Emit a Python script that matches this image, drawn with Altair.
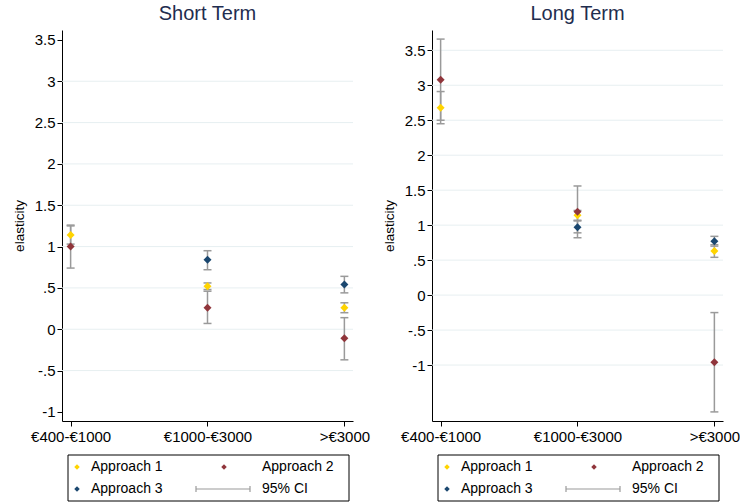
import json
import altair as alt
import pandas as pd

# ---------------- data ----------------
categories = ["€400-€1000", "€1000-€3000", ">€3000"]
approaches = ["Approach 1", "Approach 2", "Approach 3"]
colors = ["#FFD400", "#90353B", "#1A476F"]

# Short term estimates and 95% CI
short_a1 = [1.14, 0.52, 0.26]
short_a1_lo = [1.03, 0.48, 0.20]
short_a1_hi = [1.26, 0.56, 0.32]
short_a2 = [1.00, 0.26, -0.11]
short_a2_lo = [0.74, 0.07, -0.37]
short_a2_hi = [1.25, 0.46, 0.14]
short_a3 = [None, 0.84, 0.54]
short_a3_lo = [None, 0.72, 0.44]
short_a3_hi = [None, 0.95, 0.64]

# Long term estimates and 95% CI
long_a1 = [2.68, 1.14, 0.63]
long_a1_lo = [2.45, 1.07, 0.54]
long_a1_hi = [2.91, 1.21, 0.72]
long_a2 = [3.08, 1.19, -0.96]
long_a2_lo = [2.50, 0.82, -1.67]
long_a2_hi = [3.66, 1.56, -0.25]
long_a3 = [None, 0.97, 0.77]
long_a3_lo = [None, 0.89, 0.70]
long_a3_hi = [None, 1.06, 0.84]

y_ticks = [-1, -0.5, 0, 0.5, 1, 1.5, 2, 2.5, 3, 3.5]
short_grid = [-0.5, 0, 0.5, 1, 1.5, 2, 2.5, 3]
long_grid = [-1, -0.5, 0, 0.5, 1, 1.5, 2, 2.5, 3, 3.5]
short_domain = [-1.11, 3.62]
long_domain = [-1.80, 3.79]

# ---------------- style ----------------
FONT = "Liberation Sans"
W, H = 291, 391
CI_COLOR = "#9a9a9a"
GRID_COLOR = "#E7EFF1"
TITLE_COLOR = "#1F2D4F"

x_label_expr = json.dumps(categories) + "[datum.value]"
y_label_expr = ("datum.value == 0.5 ? '.5' : datum.value == -0.5 ? '-.5' : '' + datum.value")

X_AXIS = alt.Axis(values=[0, 1, 2], labelExpr=x_label_expr, title=None, grid=False, labelPadding=3)
Y_AXIS = alt.Axis(values=y_ticks, labelExpr=y_label_expr, title="elasticity", grid=False,
                  titlePadding=8, titleFontSize=13.5, titleFontWeight="normal", titleFont=FONT,
                  titleColor="black")


def build_df(ests, los, his):
    rows = []
    for a, est, lo, hi in zip(approaches, ests, los, his):
        for i in range(len(categories)):
            if est[i] is None:
                continue
            rows.append({"idx": i, "approach": a, "est": est[i], "lo": lo[i], "hi": hi[i]})
    return pd.DataFrame(rows)


def panel(title, df, grid_vals, domain):
    xs = alt.Scale(domain=[-0.063, 2.063], nice=False, zero=False)
    ys = alt.Scale(domain=domain, nice=False, zero=False)

    def X(f):
        return alt.X(f, scale=xs, axis=X_AXIS)

    def Y(f):
        return alt.Y(f, scale=ys, axis=Y_AXIS)

    grid = alt.Chart(pd.DataFrame({"g": grid_vals})).mark_rule(
        color=GRID_COLOR, strokeWidth=1
    ).encode(y=Y("g:Q"))

    ci = alt.Chart(df).mark_rule(color=CI_COLOR, strokeWidth=1.5).encode(
        x=X("idx:Q"), y=Y("lo:Q"), y2="hi:Q")
    cap_lo = alt.Chart(df).mark_rule(color=CI_COLOR, strokeWidth=1.5, xOffset=-4, x2Offset=4).encode(
        x=X("idx:Q"), x2="idx:Q", y=Y("lo:Q"))
    cap_hi = alt.Chart(df).mark_rule(color=CI_COLOR, strokeWidth=1.5, xOffset=-4, x2Offset=4).encode(
        x=X("idx:Q"), x2="idx:Q", y=Y("hi:Q"))

    pts = alt.Chart(df).mark_point(shape="diamond", filled=True, size=64, opacity=1).encode(
        x=X("idx:Q"), y=Y("est:Q"),
        color=alt.Color("approach:N", scale=alt.Scale(domain=approaches, range=colors), legend=None))

    # ----- legend box drawn below the plot -----
    one = pd.DataFrame({"k": [0]})
    bx0, bx1, by0, by1 = 6, 287, 425, 471
    r1, r2 = 437, 459
    box = alt.Chart(one).mark_rect(fill="white", stroke="black", strokeWidth=1).encode(
        x=alt.value(bx0), x2=alt.value(bx1), y=alt.value(by0), y2=alt.value(by1))
    leg = [box]
    sym_pos = [(bx0 + 9, r1), (bx0 + 156, r1), (bx0 + 9, r2)]
    txt_pos = [(bx0 + 23, r1), (bx0 + 194, r1), (bx0 + 23, r2)]
    for a, c, (sx, sy), (tx, ty) in zip(approaches, colors, sym_pos, txt_pos):
        leg.append(alt.Chart(one).mark_point(shape="diamond", filled=True, size=30, opacity=1,
                                             color=c).encode(x=alt.value(sx), y=alt.value(sy)))
        leg.append(alt.Chart(one).mark_text(text=a, align="left", baseline="middle", font=FONT,
                                            fontSize=14, color="black").encode(
            x=alt.value(tx), y=alt.value(ty)))
    lx0, lx1 = bx0 + 128, bx0 + 182
    leg.append(alt.Chart(one).mark_rule(color=CI_COLOR, strokeWidth=1.2).encode(
        x=alt.value(lx0), x2=alt.value(lx1), y=alt.value(r2)))
    for lx in (lx0, lx1):
        leg.append(alt.Chart(one).mark_rule(color=CI_COLOR, strokeWidth=1.2).encode(
            x=alt.value(lx), y=alt.value(r2 - 3), y2=alt.value(r2 + 3)))
    leg.append(alt.Chart(one).mark_text(text="95% CI", align="left", baseline="middle", font=FONT,
                                        fontSize=14, color="black").encode(
        x=alt.value(bx0 + 194), y=alt.value(r2)))

    return alt.layer(grid, ci, cap_lo, cap_hi, pts, *leg).properties(
        width=W, height=H,
        title=alt.TitleParams(title, fontSize=20, color=TITLE_COLOR, font=FONT,
                              fontWeight="normal", anchor="middle", offset=6))


short_df = build_df([short_a1, short_a2, short_a3],
                    [short_a1_lo, short_a2_lo, short_a3_lo],
                    [short_a1_hi, short_a2_hi, short_a3_hi])
long_df = build_df([long_a1, long_a2, long_a3],
                   [long_a1_lo, long_a2_lo, long_a3_lo],
                   [long_a1_hi, long_a2_hi, long_a3_hi])

chart = alt.hconcat(
    panel("Short Term", short_df, short_grid, short_domain),
    panel("Long Term", long_df, long_grid, long_domain),
    spacing=79, bounds="flush",
).properties(
    padding={"left": 12, "top": 4, "right": 0, "bottom": 0},
    background="white",
).configure_view(stroke=None).configure_axis(
    domainColor="black", domainWidth=1, tickColor="black", tickSize=5, tickWidth=1,
    labelFont=FONT, labelFontSize=15, labelColor="black",
)

chart.save("out.html", embed_options={"renderer": "svg", "actions": False})
